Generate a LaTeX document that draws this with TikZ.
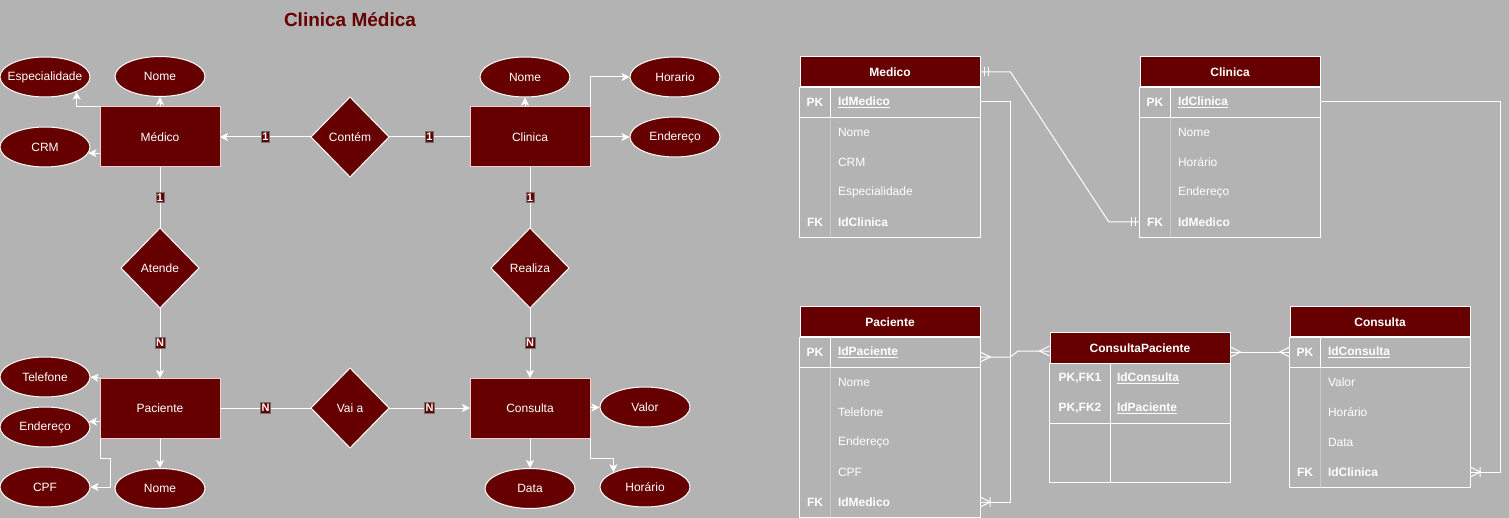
\documentclass[tikz,border=0pt]{standalone}
\usepackage{fontspec}
\setmainfont{Liberation Sans}
\usetikzlibrary{arrows.meta,positioning,shapes.geometric,decorations.markings}

\definecolor{fundo}{HTML}{B3B3B3}
\definecolor{vinho}{HTML}{660000}
\definecolor{rosa}{HTML}{F8CECC}

\newcommand{\fonte}{\fontsize{12}{14}\selectfont}

\tikzset{
  entidade/.style={rectangle, draw=rosa, line width=1pt, fill=vinho, text=white, font=\fonte,
    minimum width=120pt, minimum height=60pt, inner sep=0pt, outer sep=0pt},
  atributo/.style={ellipse, draw=white, line width=1pt, fill=vinho, text=white, font=\fonte,
    minimum width=90pt, minimum height=40pt, inner sep=0pt},
  relacao/.style={diamond, draw=white, line width=1pt, fill=vinho, text=white, font=\fonte,
    minimum width=78pt, minimum height=80pt, inner sep=0pt, outer sep=0pt},
  seta/.style={draw=white, line width=1pt, -{Stealth[length=8pt,width=8pt,inset=2pt]}},
  liga/.style={draw=white, line width=1pt},
  card/.style={rectangle, fill=vinho, draw=black!55, line width=0.6pt, text=white,
    font=\bfseries\fontsize{11}{11}\selectfont, inner xsep=1pt, inner ysep=1.5pt},
  titulo/.style={text=vinho, font=\bfseries\fontsize{19}{22}\selectfont},
  % tabelas
  cab/.style={rectangle, draw=white, line width=1pt, fill=vinho, text=white,
    font=\bfseries\fonte, minimum width=180pt, minimum height=30pt, inner sep=0pt},
  campo/.style={rectangle, text=white, font=\fonte, text width=134pt,
    inner xsep=8pt, inner ysep=0pt, minimum height=30pt, align=left},
  campob/.style={campo, font=\bfseries\fonte},
  campocp/.style={campob, text width=106pt, inner xsep=7pt},
  chave/.style={rectangle, text=white, font=\bfseries\fonte, minimum width=30pt,
    minimum height=30pt, inner sep=0pt},
  chavecp/.style={chave, minimum width=60pt},
  borda/.style={draw=white, line width=1pt},
  fraca/.style={draw=white, opacity=0.3, line width=1pt},
  % marcas das ligacoes
  umum/.style={postaction={decorate, decoration={markings,
    mark=at position 0 with {\draw[white, line width=1pt, -] (4pt,-4.5pt) -- (4pt,4.5pt) (8pt,-4.5pt) -- (8pt,4.5pt);},
    mark=at position 1 with {\draw[white, line width=1pt, -] (-4pt,-4.5pt) -- (-4pt,4.5pt) (-8pt,-4.5pt) -- (-8pt,4.5pt);}}}},
  umuitos/.style={postaction={decorate, decoration={markings,
    mark=at position 1 with {\draw[white, line width=1pt, -] (0,5pt) -- (-10pt,0) -- (0,-5pt) (-10pt,-5pt) -- (-10pt,5pt);}}}},
  muitosini/.style={postaction={decorate, decoration={markings,
    mark=at position 0 with {\draw[white, line width=1pt, -] (0,5pt) -- (10pt,0) -- (0,-5pt);}}}},
  muitosfim/.style={postaction={decorate, decoration={markings,
    mark=at position 1 with {\draw[white, line width=1pt, -] (0,5pt) -- (-10pt,0) -- (0,-5pt);}}}}
}

\begin{document}
\begin{tikzpicture}[x=1pt, y=-1pt]
  \path[use as bounding box, fill=fundo] (0,0) rectangle (1509,518);

  \node[titulo] (titulo) at (350,20) {Clinica Médica};

  % modelo conceitual
  \node[entidade] (medico) at (160,137) {Médico};
  \node[relacao] (contem) [right=91pt of medico] {Contém};
  \node[entidade] (clinica) [right=81pt of contem] {Clinica};
  \node[relacao] (atende) [below=61pt of medico] {Atende};
  \node[entidade] (paciente) [below=70pt of atende] {Paciente};
  \node[relacao] (vaia) [right=91pt of paciente] {Vai a};
  \node[entidade] (consulta) [right=81pt of vaia] {Consulta};
  \node[relacao] (realiza) [below=61pt of clinica] {Realiza};

  \node[atributo] (espec) at (45,77) {\makebox[0pt]{Especialidade}};
  \node[atributo] (nomemed) [above=10pt of medico] {Nome};
  \node[atributo] (crm) at (45,147) {CRM};
  \node[atributo] (nomecli) at (525,77) {Nome};
  \node[atributo] (horario) at (675,77) {Horario};
  \node[atributo] (endcli) at (675,137) {Endereço};
  \node[atributo] (telefone) at (45,377) {Telefone};
  \node[atributo] (endpac) at (45,427) {Endereço};
  \node[atributo] (cpf) at (45,487) {CPF};
  \node[atributo] (nomepac) [below=30pt of paciente] {Nome};
  \node[atributo] (valor) at (645,407) {Valor};
  \node[atributo] (data) [below=30pt of consulta] {Data};
  \node[atributo] (horcon) at (645,487) {Horário};

  \draw[seta] (contem) -- node[card] (c1) {1} (medico);
  \draw[liga] (contem) -- node[card] (c2) {1} (clinica);
  \draw[liga] (medico) -- node[card] (c3) {1} (atende);
  \draw[seta] (atende) -- node[card] (c4) {N} (paciente);
  \draw[liga] (clinica) -- node[card] (c5) {1} (realiza);
  \draw[seta] (realiza) -- node[card] (c6) {N} (consulta);
  \draw[liga] (paciente) -- node[card] (c7) {N} (vaia);
  \draw[seta] (vaia) -- node[card] (c8) {N} (consulta);

  \draw[seta] (medico.north west) -| (espec.-25);
  \draw[seta] (medico) -- (nomemed);
  \draw[seta] (medico.west |- crm.-8) -- (crm.-8);
  \draw[seta] (nomecli.south |- clinica.north) -- (nomecli.south);
  \draw[seta] (clinica.north east) |- (horario.west);
  \draw[seta] (clinica) -- (endcli);
  \draw[seta] (paciente.north west) -- (telefone.east);
  \draw[seta] (paciente.west |- endpac.7) -- (endpac.7);
  \draw[seta] (paciente.south west) -- ++(0,20) -- ++(10,0) |- (cpf.east);
  \draw[seta] (paciente) -- (nomepac);
  \draw[seta] (consulta) -- (valor);
  \draw[seta] (consulta) -- (data);
  \draw[seta] (consulta.south east) -- ++(0,20) -| (horcon.155);

  % Medico
  \node[cab] (med) at (890,72) {Medico};
  \node[chave] (medpkk) at (815,102) {PK};
  \node[campob] (medpk) at (905,102) {\underline{IdMedico}};
  \foreach \txt [count=\i] in {Nome,CRM,Especialidade}
    \node[campo] (med\i) at (905,{102+30*\i}) {\txt};
  \node[chave] (medfkk) at (815,222) {FK};
  \node[campob] (medfk) at (905,222) {IdClinica};
  \draw[borda] (med.south west) rectangle (medfk.south east);
  \draw[borda] (medpkk.south west) -- (medpk.south east);
  \draw[borda] (medpkk.north east) -- (medpkk.south east);
  \draw[fraca] (medpkk.south east) -- (medfkk.south east);

  % Clinica
  \node[cab] (cli) at (1230,72) {Clinica};
  \node[chave] (clipkk) at (1155,102) {PK};
  \node[campob] (clipk) at (1245,102) {\underline{IdClinica}};
  \foreach \txt [count=\i] in {Nome,Horário,Endereço}
    \node[campo] (cli\i) at (1245,{102+30*\i}) {\txt};
  \node[chave] (clifkk) at (1155,222) {FK};
  \node[campob] (clifk) at (1245,222) {IdMedico};
  \draw[borda] (cli.south west) rectangle (clifk.south east);
  \draw[borda] (clipkk.south west) -- (clipk.south east);
  \draw[borda] (clipkk.north east) -- (clipkk.south east);
  \draw[fraca] (clipkk.south east) -- (clifkk.south east);

  % Paciente
  \node[cab] (pac) at (890,322) {Paciente};
  \node[chave] (pacpkk) at (815,352) {PK};
  \node[campob] (pacpk) at (905,352) {\underline{IdPaciente}};
  \foreach \txt [count=\i] in {Nome,Telefone,Endereço,CPF}
    \node[campo] (pac\i) at (905,{352+30*\i}) {\txt};
  \node[chave] (pacfkk) at (815,502) {FK};
  \node[campob] (pacfk) at (905,502) {IdMedico};
  \draw[borda] (pac.south west) rectangle (pacfk.south east);
  \draw[borda] (pacpkk.south west) -- (pacpk.south east);
  \draw[borda] (pacpkk.north east) -- (pacpkk.south east);
  \draw[fraca] (pacpkk.south east) -- (pacfkk.south east);

  % Consulta
  \node[cab] (con) at (1380,322) {Consulta};
  \node[chave] (conpkk) at (1305,352) {PK};
  \node[campob] (conpk) at (1395,352) {\underline{IdConsulta}};
  \foreach \txt [count=\i] in {Valor,Horário,Data}
    \node[campo] (con\i) at (1395,{352+30*\i}) {\txt};
  \node[chave] (confkk) at (1305,472) {FK};
  \node[campob] (confk) at (1395,472) {IdClinica};
  \draw[borda] (con.south west) rectangle (confk.south east);
  \draw[borda] (conpkk.south west) -- (conpk.south east);
  \draw[borda] (conpkk.north east) -- (conpkk.south east);
  \draw[fraca] (conpkk.south east) -- (confkk.south east);

  % ConsultaPaciente
  \node[cab] (cp) at (1140,348) {ConsultaPaciente};
  \node[chavecp] (cpk1) at (1080,378) {PK,FK1};
  \node[campocp] (cpf1) at (1170,378) {\underline{IdConsulta}};
  \node[chavecp] (cpk2) at (1080,408) {PK,FK2};
  \node[campocp] (cpf2) at (1170,408) {\underline{IdPaciente}};
  \draw[borda] (cp.south west) rectangle ([yshift=-59pt]cpf2.south east);
  \draw[borda] (cpk2.south west) -- (cpf2.south east);
  \draw[borda] (cpk1.north east) -- ([yshift=-59pt]cpk2.south east);

  % ligacoes
  \draw[liga, umum] (med.east) -- ++(30,0) -- ([xshift=-31pt]clifkk.west) -- (clifkk.west);
  \draw[liga, umuitos] (medpk.east) -- ++(30,0) |- (pacfk.east);
  \draw[liga, muitosini, muitosfim] ([yshift=-5pt]pacpk.east) -- ++(30,0) -- ++(8,-6) -- ([yshift=-3pt]cp.west);
  \draw[liga, muitosini, muitosfim] ([yshift=-4pt]cp.east) -- (conpkk.west);
  \draw[liga, umuitos] (clipk.east) -- ++(180,0) |- (confk.east);
\end{tikzpicture}
\end{document}
